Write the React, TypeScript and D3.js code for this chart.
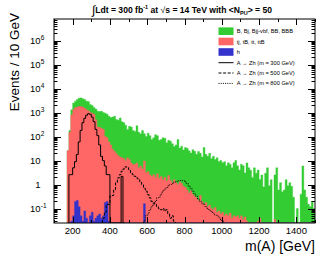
import React, { useRef, useEffect } from "react";
import * as d3 from "d3";

// 10 GeV bins, first bin starts at 170 GeV
const binStart = 170;
const binWidth = 10;

// h (blue), bins from 170 GeV, missing bins are empty
const hValues = [
  0, 0, 0.03, 0.05, 0.2, 0.22, 0.12, 0.05, 0.03, 0.08,
  0.04, 0, 0.05, 0.07, 0.03, 0.04, 0.05, 0.06, 0.04, 0.05,
  0.18, 0.2, 0.03, 0, 0, 0, 0, 0, 0, 0,
  0, 0, 0, 0, 0, 0, 0, 0, 0, 0,
  0, 0.16, 0,
];

// tj, tB, tt, ttB (red)
const ttValues = [
  26, 150, 800, 1300, 1600, 1700, 1800, 1800, 1700, 1500,
  1300, 1200, 1000, 950, 850, 500, 250, 240, 220, 200,
  100, 90, 60, 45, 30, 24, 20, 16, 14, 13,
  12, 10, 13, 11, 8, 6.8, 7, 8, 5, 6,
  4.5, 9.4, 3.1, 3.5, 2.5, 2.2, 2.6, 2.0, 2.8, 1.8,
  2.2, 1.6, 2.0, 1.4, 2.4, 1.5, 1.2, 1.6, 1.2, 1.0,
  1.3, 1.1, 0.85, 0.75, 0.6, 0.45, 0.55, 0.4, 0.32, 0.28,
  0.22, 0.35, 0.2, 0.15, 0.18, 0.12, 0.14, 0.1, 0.09, 0.11,
  0.07, 0.08, 0.06, 0.07, 0.05, 0.06, 0.05, 0.065, 0.04, 0.05,
  0.045, 0.05, 0.04, 0.05, 0.035, 0.045, 0.03, 0, 0, 0,
  0, 0, 0.03, 0.04, 0, 0, 0, 0, 0, 0,
  0, 0.035, 0, 0, 0, 0, 0, 0, 0, 0,
  0, 0, 0, 0, 0, 0, 0, 0, 0, 0,
  0, 0, 0,
];

// B, Bj, Bjj-vbf, BB, BBB (green)
const bValues = [
  0, 30, 500, 1200, 1400, 1800, 2200, 2300, 2100, 2000,
  1700, 1700, 1200, 1050, 800, 900, 900, 860, 930, 800,
  850, 760, 640, 575, 620, 676, 500, 464, 586, 407,
  368, 290, 187, 259, 242, 173, 158, 272, 145, 124,
  175, 121, 97, 136, 107, 73, 87, 118, 107, 68,
  73, 88, 83, 54, 68, 63, 49, 37, 44, 74,
  32, 39, 27, 34, 32, 25, 20, 28, 24, 18,
  24, 20, 14, 35, 18, 15, 20, 12, 15, 11,
  13, 9, 10, 8, 9, 6, 8, 7, 5, 8,
  10, 6, 4, 7, 6, 3, 8, 5, 4, 2,
  5, 3, 4, 1.6, 2.5, 0.8, 3, 5, 0.9, 1.6,
  0, 2.5, 5, 0.6, 1.2, 0.5, 0.6, 1.6, 0.9, 1.2,
  0.85, 0.3, 0, 0.1, 0, 0.4, 6, 0.6, 0.3, 0.15,
  0.12, 0.2, 0.1,
];

// signals
const sig300Start = 180;
const sig300Values = [
  2.6, 2.6, 5, 9, 18, 60, 180, 380, 580, 780,
  900, 850, 650, 420, 200, 110, 45, 15, 10, 6,
  2.6, 2.6, 0, 0, 0, 0, 0, 0, 2.2, 0,
];
const sig500Start = 360;
const sig500Values = [
  0.04, 0.07, 0.15, 0.15, 0.33, 0.35, 0.62, 1.2, 1.9, 2.6,
  3.6, 4.5, 5.5, 5.2, 4.2, 3.1, 2.6, 2.2, 1.9, 1.6,
  1.3, 1.0, 0.7, 0.53, 0.38, 0.28, 0.2, 0.17, 0.15, 0.12,
  0.1, 0.09, 0.1, 0.08, 0.09, 0.06, 0.04, 0.05, 0.03,
];
const sig800Start = 580;
const sig800Values = [
  0.03, 0.05, 0.06, 0.09, 0.12, 0.15, 0.2, 0.28, 0.3, 0.4,
  0.53, 0.65, 0.73, 0.9, 1.0, 1.1, 1.25, 1.3, 1.4, 1.45,
  1.5, 1.45, 1.3, 1.1, 0.85, 0.7, 0.53, 0.4, 0.33, 0.25,
  0.2, 0.17, 0.15, 0.12, 0.1, 0.085, 0.077, 0.065, 0.056, 0.05,
  0.045, 0.035, 0.03,
];

const xTickValues = [200, 400, 600, 800, 1000, 1200, 1400];
const yDecades = [-1, 0, 1, 2, 3, 4, 5, 6];

const legendFills = [
  { label: "B, Bj, Bjj-vbf, BB, BBB", color: "#33cc33" },
  { label: "tj, tB, tt, ttB", color: "#ff6666" },
  { label: "h", color: "#3333cc" },
];
const legendLines = [
  { label: "A \u2192 Zh (m = 300 GeV)", dash: null },
  { label: "A \u2192 Zh (m = 500 GeV)", dash: "3,1.6" },
  { label: "A \u2192 Zh (m = 800 GeV)", dash: "1,1.2" },
];

const font = "'Liberation Sans', Arial, Helvetica, sans-serif";

const App = () => {
  const svgRef = useRef(null);

  useEffect(() => {
    const svg = d3.select(svgRef.current);
    svg.selectAll("*").remove();

    const left = 54, right = 315, top = 19, bottom = 223;
    const yMin = Math.pow(10, -1.6);
    const yMax = Math.pow(10, 6.9);

    const x = d3.scaleLinear().domain([100, 1500]).range([left, right]);
    const y = d3.scaleLog().domain([yMin, yMax]).range([bottom, top]);

    svg.append("rect").attr("width", 332).attr("height", 257).attr("fill", "white");

    svg.append("clipPath").attr("id", "frame")
      .append("rect").attr("x", left).attr("y", top)
      .attr("width", right - left).attr("height", bottom - top);

    // stacked rows
    const rows = ttValues.map((tt, i) => ({
      mass: binStart + i * binWidth,
      h: hValues[i] || 0,
      tt: tt,
      B: bValues[i],
    }));
    const stack = d3.stack().keys(["h", "tt", "B"])(rows);

    const yClamp = (v) => (v >= yMin ? y(Math.min(v, yMax)) : bottom);

    const histPath = (start, values) => {
      const pts = [[x(start), bottom]];
      values.forEach((v, i) => {
        const yy = v > 0 ? yClamp(v) : bottom;
        pts.push([x(start + i * binWidth), yy]);
        pts.push([x(start + (i + 1) * binWidth), yy]);
      });
      pts.push([x(start + values.length * binWidth), bottom]);
      return d3.line()(pts);
    };

    const plot = svg.append("g").attr("clip-path", "url(#frame)");

    // draw cumulative fills from the bottom, top layer first
    const colors = { B: "#33cc33", tt: "#ff6666", h: "#3333cc" };
    [...stack].reverse().forEach((layer) => {
      const tops = layer.map((d) => (layer.key === "h" ? d[1] - d[0] : d[1]));
      plot.append("path")
        .attr("d", histPath(binStart, tops) + "Z")
        .attr("fill", colors[layer.key])
        .attr("stroke", colors[layer.key])
        .attr("stroke-width", 0.4);
    });

    // signal lines
    const sigs = [
      { start: sig300Start, values: sig300Values, dash: null },
      { start: sig500Start, values: sig500Values, dash: "3,1.6" },
      { start: sig800Start, values: sig800Values, dash: "1,1.2" },
    ];
    sigs.forEach((s) => {
      plot.append("path")
        .attr("d", histPath(s.start, s.values))
        .attr("fill", "none")
        .attr("stroke", "black")
        .attr("stroke-width", 1)
        .attr("stroke-dasharray", s.dash);
    });

    // frame
    svg.append("rect")
      .attr("x", left).attr("y", top)
      .attr("width", right - left).attr("height", bottom - top)
      .attr("fill", "none").attr("stroke", "black").attr("stroke-width", 1);

    const ticks = svg.append("g").attr("stroke", "black").attr("stroke-width", 1);

    // x ticks
    d3.range(100, 1501, 100).forEach((m) => {
      const len = xTickValues.includes(m) ? 6 : 3;
      const xx = Math.round(x(m)) + 0.5;
      ticks.append("line").attr("x1", xx).attr("x2", xx).attr("y1", bottom).attr("y2", bottom - len);
      ticks.append("line").attr("x1", xx).attr("x2", xx).attr("y1", top).attr("y2", top + len);
    });
    xTickValues.forEach((m) => {
      svg.append("text")
        .attr("x", x(m)).attr("y", 233.5)
        .attr("text-anchor", "middle")
        .attr("font-family", font).attr("font-size", 9.5)
        .text(m);
    });

    // y ticks (log)
    d3.range(-2, 7).forEach((k) => {
      d3.range(1, 10).forEach((mult) => {
        const v = mult * Math.pow(10, k);
        if (v < yMin || v > yMax) return;
        const len = mult === 1 ? 7 : 3.5;
        const yy = Math.round(y(v)) + 0.5;
        ticks.append("line").attr("x1", left).attr("x2", left + len).attr("y1", yy).attr("y2", yy);
        ticks.append("line").attr("x1", right).attr("x2", right - len).attr("y1", yy).attr("y2", yy);
      });
    });
    yDecades.forEach((k) => {
      const yy = y(Math.pow(10, k)) + 3.4;
      const base = k === 0 ? "1" : "10";
      svg.append("text")
        .attr("x", 40.5).attr("y", yy)
        .attr("text-anchor", "end")
        .attr("font-family", font).attr("font-size", 9.5)
        .text(base);
      if (k < 0 || k > 1) {
        svg.append("text")
          .attr("x", 40.8).attr("y", yy - 4)
          .attr("font-family", font).attr("font-size", 6.5)
          .text(k < 0 ? "-" + -k : String(k));
      }
    });

    // axis titles
    svg.append("text")
      .attr("transform", "translate(19,13) rotate(-90)")
      .attr("text-anchor", "end")
      .attr("font-family", font).attr("font-size", 13.5)
      .text("Events / 10 GeV");
    svg.append("text")
      .attr("x", 315).attr("y", 251)
      .attr("text-anchor", "end")
      .attr("font-family", font).attr("font-size", 14)
      .text("m(A) [GeV]");

    // title
    const t = svg.append("text")
      .attr("x", 182).attr("y", 12.5)
      .attr("text-anchor", "middle")
      .attr("font-family", font).attr("font-size", 8.6).attr("font-weight", "bold");
    t.append("tspan").attr("font-size", 12).attr("font-weight", "normal").attr("dy", 1.5).text("\u222B");
    t.append("tspan").attr("dy", -1.5).text("Ldt = 300 fb");
    t.append("tspan").attr("font-size", 5.5).attr("dy", -3.5).text("-1");
    t.append("tspan").attr("dy", 3.5).text(" at ");
    t.append("tspan").attr("font-weight", "normal").text("\u221A");
    t.append("tspan").text("s = 14 TeV with <N");
    t.append("tspan").attr("font-size", 5.5).attr("dy", 2).text("PU");
    t.append("tspan").attr("dy", -2).text("> = 50");

    // legend
    const lg = svg.append("g").attr("font-family", font).attr("font-size", 5.7);
    const rowY = [31.2, 41.5, 52, 62.7, 73, 83.4];
    legendFills.forEach((d, i) => {
      lg.append("rect")
        .attr("x", 218.5).attr("y", rowY[i] - 3.8)
        .attr("width", 15).attr("height", 7.6)
        .attr("fill", d.color);
      lg.append("text").attr("x", 236.7).attr("y", rowY[i] + 2).text(d.label);
    });
    legendLines.forEach((d, i) => {
      const yy = rowY[i + 3];
      lg.append("line")
        .attr("x1", 218.5).attr("x2", 233.5).attr("y1", yy).attr("y2", yy)
        .attr("stroke", "black").attr("stroke-width", 1)
        .attr("stroke-dasharray", d.dash);
      lg.append("text").attr("x", 236.7).attr("y", yy + 2).text(d.label);
    });
  }, []);

  return (
    <svg
      ref={svgRef}
      width={332}
      height={257}
      style={{ position: "absolute", left: 0, top: 0 }}
    />
  );
};

export default App;
